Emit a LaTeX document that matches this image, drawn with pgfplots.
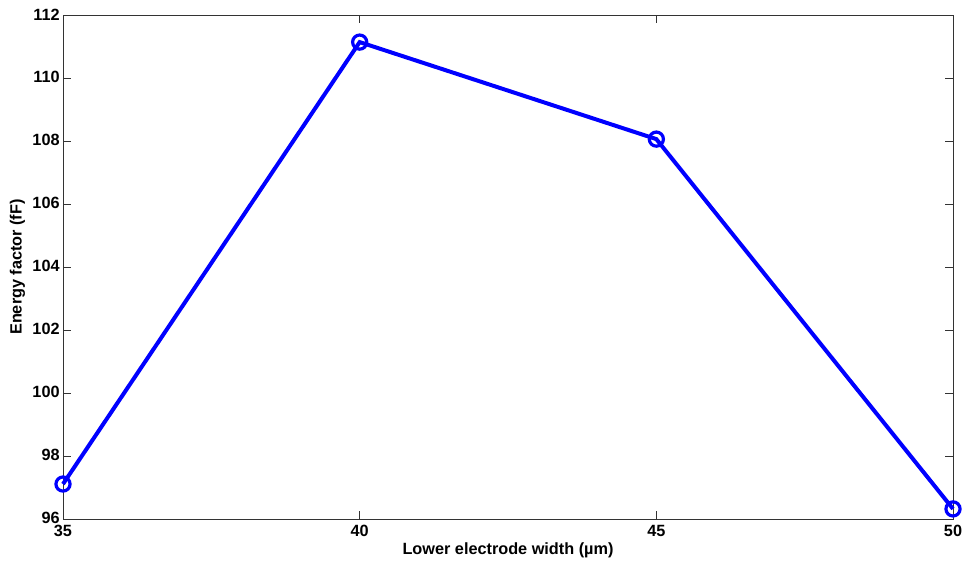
\documentclass[border=0pt]{standalone}
\usepackage{pgfplots}
\pgfplotsset{compat=1.18}
\usepackage{fontspec}
\setmainfont{Liberation Sans}
\begin{document}
\begin{tikzpicture}
\useasboundingbox (0,0) rectangle (721.5pt,421.5pt);
\begin{axis}[
  at={(47.25pt,32.25pt)}, anchor=south west,
  scale only axis, width=667.5pt, height=378pt,
  xmin=35, xmax=50, ymin=96, ymax=112,
  xtick={35,40,45,50}, ytick={96,98,...,112},
  tick align=inside, major tick length=6pt,
  axis line style={black!80, line width=0.6pt},
  every tick/.style={black!80, line width=0.6pt},
  tick label style={font=\fontsize{12.2pt}{14pt}\selectfont\bfseries},
  /pgf/number format/assume math mode=true,
  xticklabel style={yshift=-1pt},
  yticklabel style={xshift=1pt, yshift=0.5pt},
  label style={font=\fontsize{12.2pt}{14pt}\selectfont\bfseries},
  xlabel={Lower electrode width (µm)},
  ylabel={Energy factor (fF)},
  xlabel style={at={(axis description cs:0.5,0)}, anchor=north, yshift=-14pt},
  ylabel style={at={(axis description cs:0,0.5)}, anchor=south, yshift=25pt},
  clip=false,
]
\addplot[color={rgb,255:red,0;green,0;blue,255}, line width=3pt, mark=o, mark size=5.3pt, mark options={line width=2.4pt}]
coordinates {(35,97.11) (40,111.14) (45,108.06) (50,96.32)};
\end{axis}
\end{tikzpicture}
\end{document}
